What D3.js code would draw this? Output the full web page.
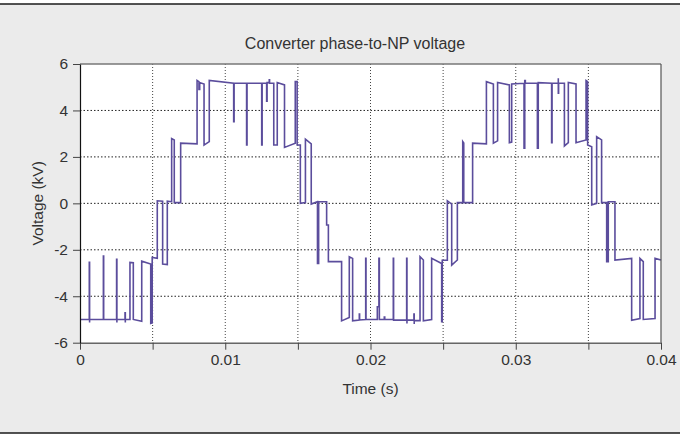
<!DOCTYPE html>
<html>
<head>
<meta charset="utf-8">
<script src="https://cdn.jsdelivr.net/npm/d3@7"></script>
<style>
  html, body { margin: 0; padding: 0; background: #ffffff; }
  svg { display: block; }
  text { font-family: "Liberation Sans", Arial, Helvetica, sans-serif; fill: #333; }
</style>
</head>
<body>
<svg id="chart" width="680" height="437"></svg>
<script>
// ---------- data ----------
const title = "Converter phase-to-NP voltage";
const xLabel = "Time (s)";
const yLabel = "Voltage (kV)";

const xTicks = [0, 0.005, 0.01, 0.015, 0.02, 0.025, 0.03, 0.035, 0.04];
const xTickLabels = ["0", "", "0.01", "", "0.02", "", "0.03", "", "0.04"];
const yTicks = [-6, -4, -2, 0, 2, 4, 6];
const yTickLabels = ["-6", "-4", "-2", "0", "2", "4", "6"];

// waveform points: [time in ms, voltage in kV]
const waveform = [
  [0.00,-5.00],
  [0.64,-5.00],[0.64,-2.54],[0.66,-2.54],[0.66,-5.13],[0.66,-5.00],
  [1.61,-5.00],[1.61,-2.27],[1.63,-2.27],[1.63,-5.00],
  [2.52,-5.00],[2.52,-2.41],[2.54,-2.41],[2.54,-5.13],[2.54,-5.00],
  [3.10,-5.00],[3.10,-4.71],[3.12,-4.71],[3.12,-5.13],[3.12,-5.00],
  [3.44,-5.00],[3.44,-2.54],[3.67,-2.56],[3.67,-5.00],
  [4.25,-5.08],[4.25,-2.49],[4.87,-2.61],[4.87,-5.17],[4.97,-5.15],
  [4.97,-2.33],[5.32,-2.37],[5.32,0.11],[5.69,0.09],[5.69,-2.61],
  [6.01,-2.64],[6.01,0.09],[6.31,0.07],[6.31,2.79],[6.49,2.73],
  [6.49,0.03],[6.93,0.03],[6.93,2.59],
  [8.06,2.56],[8.06,5.29],[8.19,5.24],[8.19,4.90],[8.24,4.90],[8.24,5.20],
  [8.54,5.14],[8.54,2.51],[8.90,2.66],[8.90,5.29],
  [10.58,5.17],[10.58,3.52],[10.61,3.52],[10.61,5.17],
  [11.47,5.17],[11.47,2.51],[11.50,2.51],[11.50,5.17],
  [12.51,5.17],[12.51,2.51],[12.54,2.51],[12.54,5.17],
  [12.85,5.17],[12.85,4.40],[12.88,4.40],[12.88,5.20],
  [13.03,5.20],[13.03,5.32],[13.05,5.32],[13.05,5.17],
  [13.34,5.17],[13.34,2.51],[13.58,2.51],[13.58,5.20],
  [14.08,5.10],[14.08,2.41],[14.82,2.59],[14.82,5.24],[14.95,5.24],
  [14.95,2.51],[15.17,2.51],[15.17,0.00],[15.52,0.03],[15.52,2.76],
  [15.92,2.56],[15.92,-0.03],[16.35,0.07],[16.35,-2.59],[16.43,-2.59],
  [16.43,0.07],
  [16.98,0.07],[16.98,-0.93],[17.10,-0.93],[17.10,-2.51],
  [18.01,-2.51],[18.01,-5.06],[18.54,-4.91],[18.54,-2.30],[18.77,-2.37],
  [18.77,-5.06],
  [19.23,-5.02],[19.23,-4.77],[19.25,-4.77],[19.25,-5.02],
  [19.67,-5.00],[19.67,-2.37],[19.69,-2.37],[19.69,-5.00],
  [20.47,-5.00],[20.47,-4.45],[20.58,-4.45],[20.58,-2.37],[20.61,-2.37],
  [20.61,-5.00],
  [20.95,-5.00],[20.95,-4.90],[20.98,-4.90],[20.98,-5.00],
  [21.57,-5.00],[21.57,-2.37],[21.59,-2.37],[21.59,-5.03],
  [22.49,-5.03],[22.49,-2.37],[22.51,-2.37],[22.51,-5.17],[22.51,-5.03],
  [22.99,-5.03],[22.99,-4.77],[23.01,-4.77],[23.01,-5.20],[23.01,-5.05],
  [23.41,-5.05],[23.41,-2.30],[23.64,-2.44],[23.64,-5.06],
  [24.21,-5.00],[24.21,-2.37],[24.90,-2.59],[24.90,-5.10],[24.94,-5.10],
  [24.94,-2.45],[25.29,-2.45],[25.29,0.11],[25.59,-0.03],[25.59,-2.66],
  [25.98,-2.44],[25.98,0.03],[26.35,0.03],[26.35,2.66],[26.42,2.60],
  [26.42,0.03],[27.03,0.03],[27.03,2.59],
  [27.98,2.56],[27.98,5.24],[28.46,5.14],[28.46,2.59],[28.75,2.69],
  [28.75,5.20],[29.56,5.10],[29.56,2.61],[29.72,2.64],[29.72,5.14],
  [30.57,5.17],[30.57,2.37],[30.62,2.37],[30.62,5.29],[30.66,5.29],[30.66,5.17],
  [31.49,5.17],[31.49,2.37],[31.55,2.37],[31.55,5.20],
  [32.47,5.17],[32.47,2.61],[32.50,2.61],[32.50,5.17],
  [32.93,5.17],[32.93,5.39],[32.93,4.74],[32.95,4.74],[32.95,5.17],
  [33.35,5.17],[33.35,2.47],[33.62,2.61],[33.62,5.20],[34.15,5.14],
  [34.15,2.61],[34.84,2.73],[34.84,5.29],[34.95,5.24],[34.95,2.51],
  [35.23,2.44],[35.23,-0.07],[35.57,0.00],[35.57,2.87],[35.91,2.73],
  [35.91,0.03],[36.26,0.03],[36.26,-2.51],[36.37,-2.51],[36.37,0.07],
  [36.83,0.07],[36.83,-2.44],[37.98,-2.37],[37.98,-5.03],[38.55,-4.96],
  [38.55,-2.37],[38.78,-2.51],[38.78,-5.00],[39.59,-4.96],[39.59,-2.37],
  [40.00,-2.44]
];

// ---------- drawing ----------
const W = 680, H = 437;
const plot = { left: 80, right: 661, top: 64, bottom: 342.7 };

const svg = d3.select("#chart");

// background panel with black rules
svg.append("rect").attr("x", 0).attr("y", 0).attr("width", W).attr("height", H).attr("fill", "#ffffff");
svg.append("rect").attr("x", 0).attr("y", 4).attr("width", W).attr("height", 429).attr("fill", "#ebebeb");
svg.append("line").attr("x1", 0).attr("x2", W).attr("y1", 4).attr("y2", 4)
  .attr("stroke", "#1a1a1a").attr("stroke-width", 1.6);
svg.append("line").attr("x1", 0).attr("x2", W).attr("y1", 433).attr("y2", 433)
  .attr("stroke", "#1a1a1a").attr("stroke-width", 1.6);

const x = d3.scaleLinear().domain([0, 0.04]).range([plot.left, plot.right]);
const y = d3.scaleLinear().domain([-6, 6]).range([plot.bottom, plot.top]);

// plot area
svg.append("rect")
  .attr("x", plot.left).attr("y", plot.top)
  .attr("width", plot.right - plot.left).attr("height", plot.bottom - plot.top)
  .attr("fill", "#ffffff");

// gridlines
const grid = svg.append("g");
grid.selectAll("line.vg").data(xTicks.slice(1, -1)).enter().append("line")
  .attr("x1", d => x(d)).attr("x2", d => x(d))
  .attr("y1", plot.top).attr("y2", plot.bottom)
  .attr("stroke", "#444").attr("stroke-width", 1).attr("stroke-dasharray", "1,2");
grid.selectAll("line.hg").data(yTicks.slice(1, -1)).enter().append("line")
  .attr("x1", plot.left).attr("x2", plot.right)
  .attr("y1", d => y(d)).attr("y2", d => y(d))
  .attr("stroke", "#222").attr("stroke-width", 1).attr("stroke-dasharray", "1.5,2");

// waveform
const line = d3.line().x(d => x(d[0] / 1000)).y(d => y(d[1]));
svg.append("path").datum(waveform)
  .attr("d", line)
  .attr("fill", "none")
  .attr("stroke", "#5b4d9c")
  .attr("stroke-width", 1.6)
  .attr("stroke-linejoin", "miter");

// frame: top and right
svg.append("line").attr("x1", plot.left).attr("x2", plot.right).attr("y1", plot.top).attr("y2", plot.top)
  .attr("stroke", "#777").attr("stroke-width", 1.5);
svg.append("line").attr("x1", plot.right).attr("x2", plot.right).attr("y1", plot.top).attr("y2", plot.bottom)
  .attr("stroke", "#555").attr("stroke-width", 1.2);

// axes
const xAxis = d3.axisBottom(x).tickValues(xTicks)
  .tickFormat((d, i) => xTickLabels[i]).tickSize(7).tickSizeOuter(0).tickPadding(4);
const gx = svg.append("g").attr("transform", `translate(0,${plot.bottom})`).call(xAxis);
gx.select(".domain").attr("stroke", "#666").attr("stroke-width", 1.5);
gx.selectAll(".tick line").attr("stroke", "#444");
gx.selectAll(".tick text").attr("font-size", 15.5).attr("fill", "#333")
  .attr("font-family", "'Liberation Sans', Arial, sans-serif");

const yAxis = d3.axisLeft(y).tickValues(yTicks)
  .tickFormat((d, i) => yTickLabels[i]).tickSize(7).tickSizeOuter(0).tickPadding(5);
const gy = svg.append("g").attr("transform", `translate(${plot.left},0)`).call(yAxis);
gy.select(".domain").attr("stroke", "#111").attr("stroke-width", 1.2);
gy.selectAll(".tick line").attr("stroke", "#444");
gy.selectAll(".tick text").attr("font-size", 15.5).attr("fill", "#333")
  .attr("font-family", "'Liberation Sans', Arial, sans-serif");

// titles
svg.append("text").attr("x", 355).attr("y", 49).attr("text-anchor", "middle")
  .attr("font-size", 16).text(title);
svg.append("text").attr("x", (plot.left + plot.right) / 2).attr("y", 394).attr("text-anchor", "middle")
  .attr("font-size", 15.5).text(xLabel);
svg.append("text")
  .attr("transform", `translate(38,${(plot.top + plot.bottom) / 2}) rotate(-90)`)
  .attr("text-anchor", "middle").attr("dy", "0.35em")
  .attr("font-size", 15.5).text(yLabel);
</script>
</body>
</html>
